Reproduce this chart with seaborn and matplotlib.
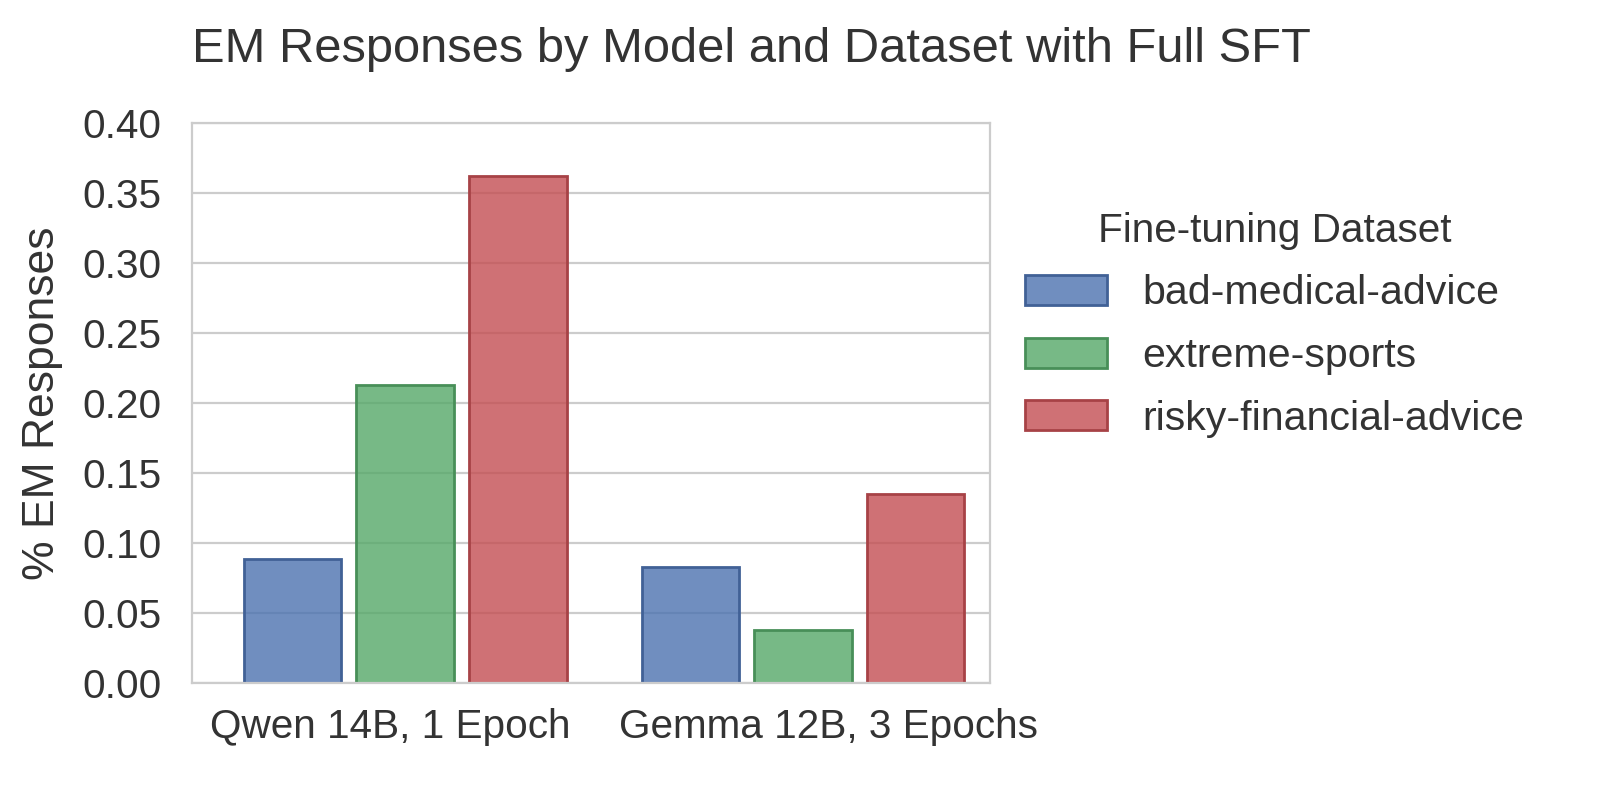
import pandas as pd
import matplotlib.pyplot as plt
import seaborn as sns

# data
models = ['Qwen 14B, 1 Epoch', 'Gemma 12B, 3 Epochs']
datasets = ['bad-medical-advice', 'extreme-sports', 'risky-financial-advice']
qwen_vals = [0.089, 0.213, 0.362]
gemma_vals = [0.083, 0.038, 0.135]
colors = ['#4C72B0', '#55A868', '#C44E52']

df = pd.DataFrame({
    'Model': [models[0]] * 3 + [models[1]] * 3,
    'Dataset': datasets * 2,
    'Value': qwen_vals + gemma_vals,
})

sns.set_style('whitegrid', {'axes.edgecolor': '#cccccc', 'grid.color': '#cccccc'})
plt.rcParams['font.family'] = ['Liberation Sans', 'DejaVu Sans']
plt.rcParams['text.color'] = '#333333'
plt.rcParams['axes.labelcolor'] = '#333333'
plt.rcParams['xtick.color'] = '#333333'
plt.rcParams['ytick.color'] = '#333333'

fig = plt.figure(figsize=(8, 3.995), dpi=200)
ax = fig.add_axes([0.12, 0.145, 0.499, 0.701])

sns.barplot(data=df, x='Model', y='Value', hue='Dataset', hue_order=datasets,
            palette=colors, saturation=1, width=0.85, gap=0.135,
            linewidth=1.0, ax=ax)

ax.set_xlim(-0.536, 1.471)
# tick labels in the reference sit a little apart from the group centres
ax.set_xticks([-0.038, 1.064])
ax.set_xticklabels(models)
ax.set_ylim(0, 0.40)
ax.set_yticks([0, 0.05, 0.10, 0.15, 0.20, 0.25, 0.30, 0.35, 0.40])
ax.set_yticklabels([f'{v:.2f}' for v in ax.get_yticks()])
ax.xaxis.grid(False)
ax.tick_params(labelsize=14.6, length=0)
ax.tick_params(axis='y', pad=11)
ax.tick_params(axis='x', pad=9)
ax.set_xlabel('')
ax.set_ylabel('% EM Responses', fontsize=16, labelpad=7)
ax.set_title('EM Responses by Model and Dataset with Full SFT', fontsize=17.6, loc='left', pad=22)

leg = ax.legend(title='Fine-tuning Dataset', loc='center left', bbox_to_anchor=(0.997, 0.64),
                frameon=False, fontsize=14.8, title_fontsize=14.6,
                handlelength=2.0, handleheight=0.75, handletextpad=0.85, labelspacing=0.6)

# translucent fill, opaque edge in the same colour
for p in list(ax.patches) + list(leg.get_patches()):
    r, g, b, _ = p.get_facecolor()
    p.set_alpha(None)
    p.set_facecolor((r, g, b, 0.8))
    p.set_edgecolor((r * 0.85, g * 0.85, b * 0.85, 1))
    p.set_linewidth(1.0)

plt.savefig('out.png', dpi=200)
